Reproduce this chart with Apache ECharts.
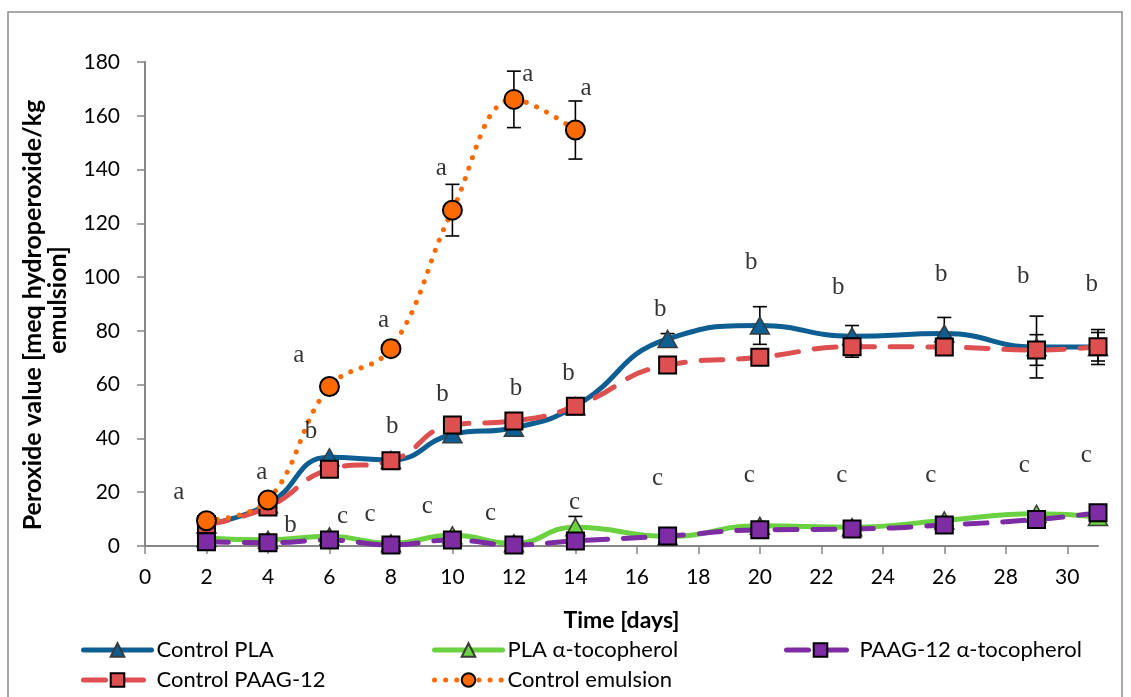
<!DOCTYPE html>
<html>
<head>
<meta charset="utf-8">
<script src="https://cdn.jsdelivr.net/npm/echarts@6/dist/echarts.min.js"></script>
<style>
html,body{margin:0;padding:0;background:#fff;}
#chart{width:1131px;height:697px;}
</style>
</head>
<body>
<div id="chart"></div>
<script>
// ---- data ----
const days = [2, 4, 6, 8, 10, 12, 14, 17, 20, 23, 26, 29, 31];
const emulsionDays = [2, 4, 6, 8, 10, 12, 14];

const controlPLA      = [8, 15.5, 33, 32, 41.5, 44, 52, 77, 82, 78, 79, 74, 74];
const controlPLAErr   = [0, 0, 0, 0, 0, 0, 0, 2, 7, 4, 6, 11.5, 6.5];
const plaToco         = [3, 2.3, 3.6, 1, 4, 1, 7, 3.6, 7.5, 7, 9.5, 12, 10.8];
const plaTocoErr      = [0, 0, 0, 0, 0, 0, 4, 0, 0, 0, 0, 0, 0];
const paagToco        = [1.6, 1.2, 2.2, 0.4, 2.2, 0.4, 1.9, 3.7, 6, 6.3, 7.8, 9.9, 12.4];
const controlPAAG     = [8, 14.5, 28.5, 31.7, 45, 46.5, 52, 67.3, 70.2, 74.1, 74, 72.9, 74.1];
const controlPAAGErr  = [0, 0, 0, 0, 0, 0, 0, 0, 0, 3.9, 0, 5.7, 5.3];
const controlEmulsion = [9.4, 17.1, 59.3, 73.4, 124.9, 166.1, 154.7];
const controlEmulsionErr = [0, 0, 0, 0, 9.6, 10.5, 10.8];

// significance letters [day, value, letter]
const letters = [
  [1.1, 19.8, 'a'], [3.8, 27.3, 'a'], [5.0, 70.7, 'a'], [7.76, 84, 'a'],
  [9.64, 140.6, 'a'], [12.45, 175.2, 'a'], [14.35, 170.2, 'a'],
  [4.73, 7.8, 'b'], [5.4, 42.5, 'b'], [8.04, 44.4, 'b'], [9.68, 56.5, 'b'],
  [12.07, 58.6, 'b'], [13.78, 64.2, 'b'], [16.76, 87.8, 'b'], [19.72, 105.6, 'b'],
  [22.55, 96, 'b'], [25.9, 101, 'b'], [28.57, 100.4, 'b'], [30.8, 97.4, 'b'],
  [6.43, 10.9, 'c'], [7.32, 11.9, 'c'], [9.18, 14.6, 'c'], [11.24, 12.2, 'c'],
  [13.97, 16.3, 'c'], [16.67, 25.2, 'c'], [19.66, 26.4, 'c'], [22.67, 26.4, 'c'],
  [25.56, 26.4, 'c'], [28.6, 30.1, 'c'], [30.62, 33.5, 'c']
];

const xTicks = [0, 2, 4, 6, 8, 10, 12, 14, 16, 18, 20, 22, 24, 26, 28, 30];
const yTicks = [0, 20, 40, 60, 80, 100, 120, 140, 160, 180];

const names = ['Control PLA', 'PLA α-tocopherol', 'PAAG-12 α-tocopherol', 'Control PAAG-12', 'Control emulsion'];

// ---- build ----
function pairs(xs, ys) { return xs.map((x, i) => [x, ys[i]]); }
function errData(xs, ys, es) {
  const out = [];
  xs.forEach((x, i) => { if (es[i] > 0) out.push([x, ys[i] - es[i], ys[i] + es[i]]); });
  return out;
}
const allErr = []
  .concat(errData(days, controlPLA, controlPLAErr))
  .concat(errData(days, plaToco, plaTocoErr))
  .concat(errData(days, controlPAAG, controlPAAGErr))
  .concat(errData(emulsionDays, controlEmulsion, controlEmulsionErr));

const FONT = 'Lato, "Open Sans", sans-serif';
const chart = echarts.init(document.getElementById('chart'), null, {renderer: 'canvas'});

const legendBase = {
  itemWidth: 68, itemHeight: 17, itemGap: 8,
  textStyle: {fontFamily: FONT, fontSize: 22, color: '#000'},
  lineStyle: {width: 'inherit'},
  selectedMode: false
};

chart.setOption({
  animation: false,
  backgroundColor: '#fff',
  grid: {left: 145, right: 33, top: 62, bottom: 151},
  xAxis: {
    type: 'value', min: 0, max: 31, interval: 2,
    name: 'Time [days]', nameLocation: 'middle', nameGap: 63,
    nameTextStyle: {fontFamily: FONT, fontSize: 23, fontWeight: 'bold', color: '#000'},
    axisLine: {show: true, onZero: false, lineStyle: {color: '#868686', width: 2}},
    axisTick: {show: true, inside: false, length: 8, lineStyle: {color: '#868686', width: 1.5}, customValues: xTicks},
    axisLabel: {fontFamily: FONT, fontSize: 21, color: '#000', margin: 21, customValues: xTicks},
    splitLine: {show: false}
  },
  yAxis: {
    type: 'value', min: 0, max: 180, interval: 20,
    axisLine: {show: true, lineStyle: {color: '#868686', width: 2}},
    axisTick: {show: true, inside: false, length: 8, lineStyle: {color: '#868686', width: 1.5}, customValues: yTicks},
    axisLabel: {fontFamily: FONT, fontSize: 21, color: '#000', margin: 25, customValues: yTicks},
    splitLine: {show: false}
  },
  legend: [
    Object.assign({}, legendBase, {data: [names[0]], left: 76, top: 634}),
    Object.assign({}, legendBase, {data: [names[1]], left: 427, top: 634}),
    Object.assign({}, legendBase, {data: [names[2]], left: 779, top: 634}),
    Object.assign({}, legendBase, {data: [names[3]], left: 76, top: 664}),
    Object.assign({}, legendBase, {data: [names[4]], left: 427, top: 664})
  ],
  graphic: [
    {type: 'rect', shape: {x: 8, y: 12, width: 1114, height: 720}, style: {fill: 'none', stroke: '#8c8c8c', lineWidth: 1.5}, silent: true, z: -10},
    {type: 'text', x: 33, y: 315, rotation: Math.PI / 2,
      style: {text: 'Peroxide value [meq hydroperoxide/kg', fontFamily: FONT, fontSize: 25, fontWeight: 'bold', fill: '#000', textAlign: 'center', textVerticalAlign: 'middle'}},
    {type: 'text', x: 58, y: 300, rotation: Math.PI / 2,
      style: {text: 'emulsion]', fontFamily: FONT, fontSize: 25, fontWeight: 'bold', fill: '#000', textAlign: 'center', textVerticalAlign: 'middle'}}
  ],
  series: [
    {
      type: 'custom', name: 'errorbars', z: 1, silent: true,
      data: allErr,
      renderItem: function (params, api) {
        const x = api.value(0);
        const lo = api.coord([x, api.value(1)]);
        const hi = api.coord([x, api.value(2)]);
        const hw = 7;
        const st = {stroke: '#000', lineWidth: 1.6};
        return {type: 'group', children: [
          {type: 'line', shape: {x1: lo[0], y1: lo[1], x2: hi[0], y2: hi[1]}, style: st},
          {type: 'line', shape: {x1: lo[0] - hw, y1: lo[1], x2: lo[0] + hw, y2: lo[1]}, style: st},
          {type: 'line', shape: {x1: hi[0] - hw, y1: hi[1], x2: hi[0] + hw, y2: hi[1]}, style: st}
        ]};
      }
    },
    {
      type: 'line', name: names[0], z: 2, smooth: 0.5,
      data: pairs(days, controlPLA),
      symbol: 'triangle', symbolSize: [19, 17],
      lineStyle: {color: '#0C5E93', width: 5, cap: 'round'},
      itemStyle: {color: '#0C5E93', borderColor: '#3a3a3a', borderWidth: 1.5}
    },
    {
      type: 'line', name: names[1], z: 3, smooth: 0.5,
      data: pairs(days, plaToco),
      symbol: 'triangle', symbolSize: [19, 17],
      lineStyle: {color: '#6AD141', width: 5, cap: 'round'},
      itemStyle: {color: '#6AD141', borderColor: '#3a3a3a', borderWidth: 1.5}
    },
    {
      type: 'line', name: names[2], z: 4, smooth: 0.5,
      data: pairs(days, paagToco),
      symbol: 'rect', symbolSize: 17,
      lineStyle: {color: '#7E2CA3', width: 5, type: [22, 16], cap: 'round'},
      itemStyle: {color: '#7E2CA3', borderColor: '#000', borderWidth: 2}
    },
    {
      type: 'line', name: names[3], z: 5, smooth: 0.5,
      data: pairs(days, controlPAAG),
      symbol: 'rect', symbolSize: 17,
      lineStyle: {color: '#DE4F4F', width: 5, type: [22, 16], cap: 'round'},
      itemStyle: {color: '#DE4F4F', borderColor: '#000', borderWidth: 2}
    },
    {
      type: 'line', name: names[4], z: 6, smooth: 0.4,
      data: pairs(emulsionDays, controlEmulsion),
      symbol: 'circle', symbolSize: 19,
      lineStyle: {color: '#FF6A00', width: 5, type: [0.1, 11], cap: 'round'},
      itemStyle: {color: '#FF6A00', borderColor: '#000', borderWidth: 2}
    },
    {
      type: 'scatter', name: 'letters', z: 7, silent: true,
      data: letters, symbolSize: 0,
      label: {show: true, position: 'inside', formatter: p => p.value[2],
        fontFamily: '"Liberation Serif", "DejaVu Serif", serif', fontSize: 25, color: '#000'}
    }
  ]
});
</script>
</body>
</html>
